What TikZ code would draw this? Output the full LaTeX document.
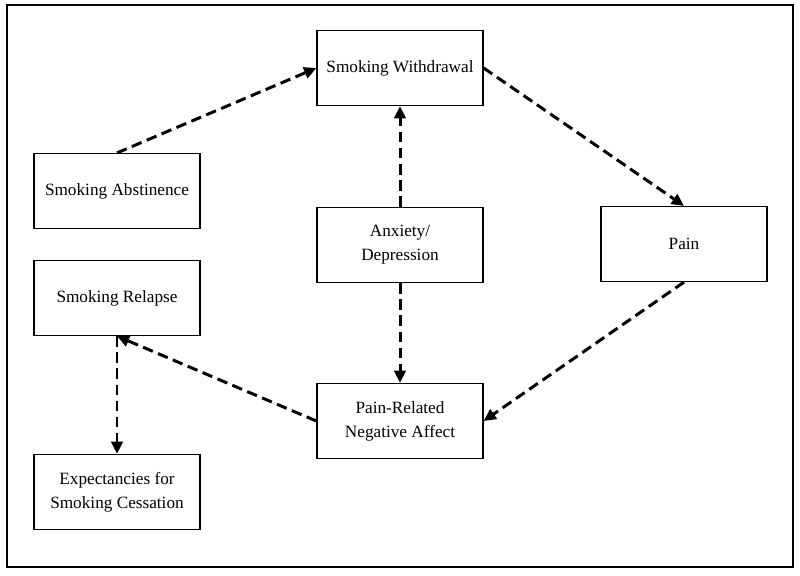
\documentclass[tikz,border=0pt]{standalone}
\usepackage{fontspec}
\setmainfont{Liberation Serif}
\usetikzlibrary{arrows.meta}
\tikzset{
  factor/.style={draw, line width=0.7pt, minimum width=3.32cm, minimum height=1.5cm,
    align=center, font=\fontsize{9.8}{13.6}\selectfont, inner sep=2pt},
  link/.style={line width=1.7pt, dash pattern=on 6pt off 3.2pt,
    -{Triangle[length=7pt,width=6.5pt]}},
}
\begin{document}
\begin{tikzpicture}[x=0.02cm, y=-0.02cm]
\useasboundingbox (0,0) rectangle (800,575);
\draw[line width=1pt] (7,5) rectangle (793,567);

%%%%%%%%%%%%%%%%%%%%%%%%%%%%%%%%%%%%%%%%%%%%%%%%%%%%%%%%%%%%%% boxes
\node[factor] (withdrawal) at (400,68) {Smoking Withdrawal};
\node[factor] (abstinence) at (117,191) {Smoking Abstinence};
\node[factor] (anxiety) at (400,245) {Anxiety/\\Depression};
\node[factor] (pain) at (684,244) {Pain};
\node[factor] (relapse) at (117,298) {Smoking Relapse};
\node[factor] (affect) at (400,421) {Pain-Related\\Negative Affect};
\node[factor] (expect) at (117,492) {Expectancies for\\Smoking Cessation};

%%%%%%%%%%%%%%%%%%%%%%%%%%%%%%%%%%%%%%%%%%%%%%%%%%%%%%%%%%%%%% links
\draw[link] (abstinence.north) -- (withdrawal.west);
\draw[link] (anxiety.north) -- (withdrawal.south);
\draw[link] (withdrawal.east) -- (pain.north);
\draw[link] (pain.south) -- (affect.east);
\draw[link] (anxiety.south) -- (affect.north);
\draw[link] (affect.west) -- (relapse.south);
\draw[link] (relapse.south) -- (expect.north);

\end{tikzpicture}
\end{document}
